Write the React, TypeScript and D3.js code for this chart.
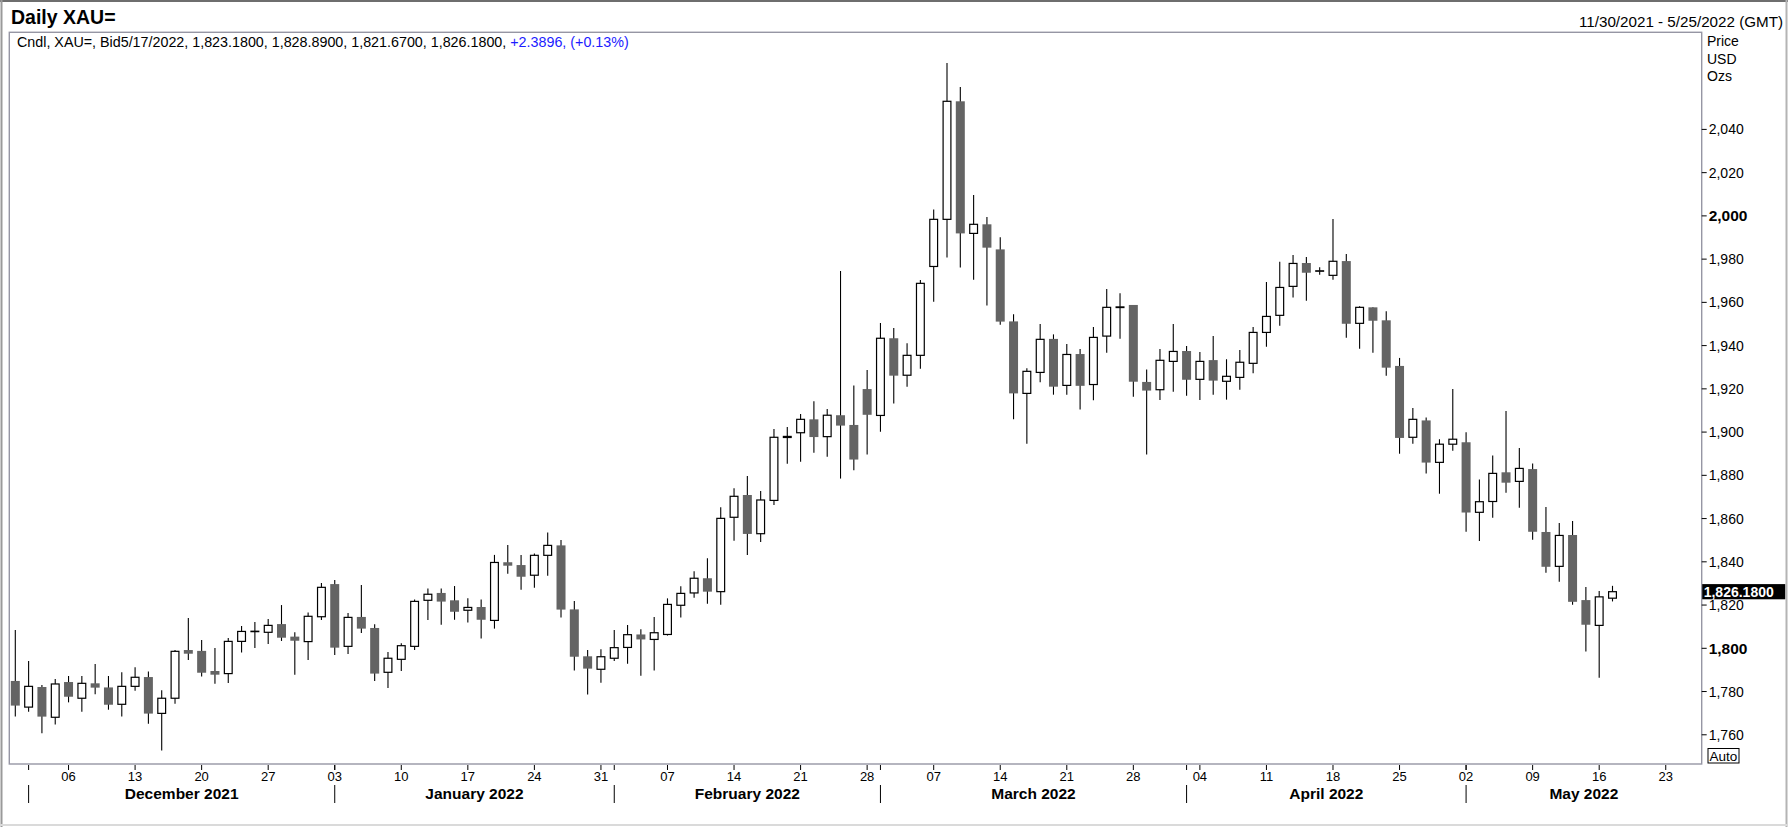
import React from "react";
import * as d3 from "d3";

// ---------- data ----------
const START = new Date(2021, 10, 30);
const END = new Date(2022, 4, 25);

const opens = [
  1784.9, 1772.8, 1782.1, 1768.1, 1784.4, 1776.9, 1783.8, 1781.9, 1774.1, 1782.4,
  1786.7, 1769.9, 1776.9, 1799.2, 1798.8, 1789.5, 1788.3, 1803.2, 1807.7, 1807.4,
  1811.2, 1805.4, 1803.1, 1814.6, 1829.7, 1800.9, 1814.5, 1809.4, 1788.9, 1794.9,
  1800.9, 1822.2, 1825.6, 1822.2, 1817.6, 1819.1, 1812.9, 1839.8, 1838.5, 1833.8,
  1843.0, 1847.6, 1818.0, 1796.3, 1790.3, 1795.4, 1800.4, 1806.4, 1804.1, 1806.4,
  1819.9, 1825.6, 1832.4, 1826.2, 1860.6, 1870.9, 1853.0, 1868.4, 1897.5, 1899.7,
  1905.9, 1897.9, 1907.8, 1903.3, 1919.9, 1907.7, 1943.4, 1926.3, 1935.5, 1976.6,
  1998.4, 2053.0, 1991.9, 1996.1, 1984.5, 1951.2, 1917.9, 1927.6, 1943.1, 1921.6,
  1936.1, 1922.0, 1944.4, 1957.6, 1958.8, 1923.2, 1919.6, 1932.7, 1937.5, 1924.4,
  1933.3, 1923.5, 1925.3, 1931.8, 1946.1, 1954.0, 1967.4, 1978.2, 1974.4, 1972.5,
  1979.1, 1950.3, 1957.7, 1951.7, 1930.6, 1897.6, 1905.4, 1886.0, 1894.4, 1895.3,
  1862.9, 1867.9, 1881.4, 1877.2, 1882.9, 1853.8, 1837.9, 1852.4, 1822.3, 1810.6,
  1823.18,
];
const highs = [
  1808.5, 1794.1, 1783.0, 1785.8, 1787.2, 1787.2, 1792.7, 1787.2, 1788.9, 1791.2,
  1789.3, 1780.6, 1799.2, 1814.0, 1803.8, 1800.1, 1804.8, 1810.3, 1812.2, 1813.6,
  1820.0, 1807.4, 1816.6, 1830.2, 1831.6, 1816.3, 1829.3, 1811.1, 1798.3, 1802.3,
  1822.6, 1827.7, 1827.7, 1828.8, 1823.1, 1822.6, 1843.2, 1847.8, 1843.2, 1843.9,
  1853.6, 1850.1, 1821.9, 1799.2, 1799.6, 1808.5, 1810.8, 1808.8, 1814.5, 1823.1,
  1828.7, 1835.6, 1841.6, 1865.2, 1874.0, 1879.7, 1872.7, 1901.4, 1902.3, 1908.4,
  1914.3, 1910.7, 1974.5, 1921.6, 1928.7, 1950.5, 1948.2, 1941.1, 1970.4, 2003.0,
  2070.7, 2059.6, 2009.7, 1999.5, 1990.1, 1954.5, 1929.5, 1950.0, 1945.2, 1940.7,
  1938.4, 1948.6, 1966.2, 1964.2, 1958.8, 1929.0, 1938.4, 1950.0, 1939.8, 1937.0,
  1944.4, 1933.7, 1938.0, 1948.6, 1969.4, 1978.8, 1981.9, 1981.0, 1976.2, 1998.6,
  1982.4, 1958.2, 1957.7, 1955.9, 1934.3, 1911.2, 1906.8, 1896.7, 1919.9, 1899.9,
  1878.1, 1889.2, 1909.8, 1892.6, 1885.5, 1865.3, 1857.9, 1858.9, 1828.3, 1826.5,
  1828.89,
];
const lows = [
  1768.4, 1770.7, 1760.7, 1764.8, 1775.0, 1770.7, 1778.7, 1771.6, 1768.4, 1780.4,
  1765.1, 1752.7, 1774.4, 1794.6, 1786.9, 1783.6, 1784.0, 1798.0, 1800.1, 1802.0,
  1803.4, 1787.8, 1794.6, 1813.1, 1796.9, 1797.4, 1807.1, 1784.9, 1781.6, 1789.5,
  1799.2, 1813.1, 1810.9, 1813.2, 1811.9, 1804.5, 1809.1, 1834.5, 1827.1, 1828.0,
  1833.6, 1814.2, 1789.7, 1778.6, 1784.1, 1794.1, 1792.9, 1787.3, 1789.7, 1805.9,
  1814.2, 1823.4, 1820.6, 1820.1, 1849.8, 1843.1, 1849.2, 1866.3, 1885.3, 1886.3,
  1890.5, 1888.6, 1878.5, 1882.4, 1889.6, 1900.2, 1913.2, 1921.0, 1929.3, 1960.3,
  1980.7, 1976.1, 1970.5, 1958.5, 1949.7, 1905.9, 1894.6, 1923.0, 1917.3, 1917.3,
  1910.4, 1914.7, 1936.7, 1943.2, 1916.4, 1889.6, 1914.8, 1918.7, 1916.8, 1914.8,
  1917.3, 1915.0, 1919.6, 1927.2, 1939.5, 1949.2, 1962.2, 1960.8, 1972.8, 1970.5,
  1943.6, 1938.6, 1936.7, 1926.1, 1890.0, 1894.6, 1880.8, 1871.5, 1891.4, 1853.9,
  1849.6, 1860.4, 1872.0, 1865.0, 1850.2, 1835.0, 1830.8, 1820.1, 1798.5, 1786.4,
  1821.67,
];
const closes = [
  1773.5, 1782.4, 1768.4, 1783.5, 1777.6, 1783.8, 1781.8, 1773.9, 1782.4, 1786.6,
  1769.8, 1776.9, 1798.6, 1797.5, 1788.7, 1787.8, 1803.2, 1807.8, 1807.9, 1810.6,
  1804.9, 1803.5, 1814.8, 1828.2, 1800.3, 1814.3, 1809.1, 1788.3, 1795.4, 1801.2,
  1821.7, 1825.0, 1821.6, 1816.9, 1818.9, 1813.2, 1839.7, 1838.2, 1833.1, 1843.0,
  1847.6, 1817.9, 1796.1, 1790.6, 1796.1, 1800.3, 1806.3, 1804.1, 1807.2, 1820.3,
  1825.4, 1832.4, 1826.2, 1860.1, 1870.3, 1852.9, 1868.6, 1897.6, 1898.0, 1905.9,
  1897.7, 1907.8, 1903.0, 1887.3, 1908.0, 1943.4, 1926.1, 1935.5, 1968.8, 1998.4,
  2053.0, 1991.9, 1996.1, 1985.3, 1951.1, 1917.9, 1928.1, 1942.9, 1921.0, 1935.9,
  1921.4, 1943.8, 1957.7, 1957.9, 1923.3, 1919.2, 1933.2, 1937.3, 1924.2, 1932.7,
  1923.8, 1925.8, 1932.3, 1946.1, 1953.5, 1966.9, 1978.0, 1973.7, 1974.6, 1979.0,
  1950.1, 1957.7, 1951.5, 1929.8, 1897.3, 1905.9, 1885.9, 1894.4, 1896.7, 1862.8,
  1867.8, 1880.9, 1876.6, 1883.2, 1853.9, 1837.7, 1852.2, 1821.5, 1810.9, 1823.79,
  1826.18,
];
const yTicks = [1760, 1780, 1800, 1820, 1840, 1860, 1880, 1900, 1920, 1940, 1960, 1980, 2000, 2020, 2040];
const boldTicks = [1800, 2000];
const lastChange = 2.3896;
const lastChangePct = 0.13;
const unitLabels = ["Price", "USD", "Ozs"];

// ---------- layout ----------
const W = 1788;
const H = 827;
const PL = 9.3;
const PR = 1701.7;
const PT = 32.3;
const PB = 764;
const FONT = "'Liberation Sans', Arial, Helvetica, sans-serif";

export default function App() {
  const days = d3
    .timeDays(START, d3.timeDay.offset(END, 1))
    .filter((d) => d.getDay() !== 0 && d.getDay() !== 6);
  const n = days.length;

  const x = d3.scaleLinear().domain([0, n - 1]).range([15.3, 15.3 + (n - 1) * 13.31]);
  const y = d3.scaleLinear().domain([1800, 2040]).range([648.3, 129.4]);

  const bars = opens.map((o, i) => ({
    i,
    o,
    h: highs[i],
    l: lows[i],
    c: closes[i],
  }));

  const mondays = days
    .map((d, i) => ({ d, i }))
    .filter((e) => e.d.getDay() === 1);
  const monthStarts = days
    .map((d, i) => ({ d, i }))
    .filter((e, k) => k > 0 && e.d.getMonth() !== days[k - 1].getMonth());

  const fmtDay = d3.timeFormat("%d");
  const fmtMonth = d3.timeFormat("%B %Y");
  const fmtTick = d3.format(",");
  const fmt4 = d3.format(",.4f");
  const fmtDate = d3.timeFormat("%-m/%-d/%Y");

  const last = bars[bars.length - 1];
  const lastDate = days[last.i];
  const infoBlack = `Cndl, XAU=, Bid${fmtDate(lastDate)}, ${fmt4(last.o)}, ${fmt4(last.h)}, ${fmt4(last.l)}, ${fmt4(last.c)}, `;
  const infoBlue = `${d3.format("+.4f")(lastChange)}, (${d3.format("+.2f")(lastChangePct)}%)`;

  const bw = 9;

  return (
    <svg
      width={W}
      height={H}
      style={{ position: "absolute", left: 0, top: 0, background: "#fff" }}
      fontFamily={FONT}
    >
      <rect x={0} y={0} width={W} height={H} fill="#fff" />
      {/* window frame */}
      <line x1={0} x2={W} y1={1} y2={1} stroke="#6e6e6e" strokeWidth={2} />
      <line x1={1.5} x2={1.5} y1={0} y2={H} stroke="#9a9a9a" strokeWidth={2} />
      <line x1={W - 1.5} x2={W - 1.5} y1={0} y2={H} stroke="#b4b4b4" strokeWidth={2} />
      <line x1={0} x2={W} y1={H - 2} y2={H - 2} stroke="#dadada" strokeWidth={2} />

      {/* header */}
      <text x={11} y={24} fontSize={19.5} fontWeight="bold" fill="#000">
        Daily XAU=
      </text>
      <text x={1783} y={27} fontSize={15.2} textAnchor="end" fill="#000">
        {`${fmtDate(START)} - ${fmtDate(END)} (GMT)`}
      </text>

      {/* plot frame */}
      <rect x={PL} y={PT} width={PR - PL} height={PB - PT} fill="#fff" stroke="#9696a4" strokeWidth={1.4} />

      <text x={17} y={47} fontSize={14.3}>
        <tspan fill="#000">{infoBlack}</tspan>
        <tspan fill="#1c1cff">{infoBlue}</tspan>
      </text>

      {/* candles */}
      <g>
        {bars.map((b) => (
          <line
            key={"w" + b.i}
            x1={x(b.i)}
            x2={x(b.i)}
            y1={y(b.h)}
            y2={y(b.l)}
            stroke="#000"
            strokeWidth={1.1}
          />
        ))}
        {bars.map((b) => {
          const up = b.c >= b.o;
          const top = y(Math.max(b.o, b.c));
          const bot = y(Math.min(b.o, b.c));
          return up ? (
            <rect
              key={"b" + b.i}
              x={x(b.i) - bw / 2 + 0.6}
              y={top}
              width={bw - 1.2}
              height={Math.max(bot - top, 0.3)}
              fill="#fff"
              stroke="#000"
              strokeWidth={1.2}
            />
          ) : (
            <rect
              key={"b" + b.i}
              x={x(b.i) - bw / 2}
              y={top}
              width={bw}
              height={Math.max(bot - top, 1)}
              fill="#646464"
            />
          );
        })}
      </g>

      {/* right axis */}
      <g fontSize={14}>
        {unitLabels.map((t, k) => (
          <text key={t} x={1707} y={46 + k * 17.5} fill="#000">
            {t}
          </text>
        ))}
        {yTicks.map((v) => {
          const bold = boldTicks.includes(v);
          return (
            <g key={v}>
              <line x1={PR} x2={PR + 5} y1={y(v)} y2={y(v)} stroke="#000" strokeWidth={1} />
              <text
                x={PR + 7}
                y={y(v)}
                dy="0.36em"
                fontSize={bold ? 15.5 : 14}
                fontWeight={bold ? "bold" : "normal"}
                fill="#000"
              >
                {fmtTick(v)}
              </text>
            </g>
          );
        })}
        <rect x={PR + 0.5} y={y(last.c) - 7.6} width={83} height={15.2} fill="#000" />
        <text x={PR + 2} y={y(last.c)} dy="0.36em" fontSize={14} fontWeight="bold" fill="#fff">
          {fmt4(last.c)}
        </text>
        <rect x={1708} y={748.5} width={31} height={14.5} fill="#fff" stroke="#000" strokeWidth={1} />
        <text x={1723.5} y={760.5} fontSize={13.5} textAnchor="middle" fill="#000">
          Auto
        </text>
      </g>

      {/* bottom axis */}
      <g>
        {mondays.map((e) => (
          <g key={"m" + e.i}>
            <line x1={x(e.i)} x2={x(e.i)} y1={PB + 1} y2={PB + 6} stroke="#000" strokeWidth={1} />
            <text x={x(e.i)} y={781} fontSize={13} textAnchor="middle" fill="#000">
              {fmtDay(e.d)}
            </text>
          </g>
        ))}
        {monthStarts.map((e, k) => {
          const next = k + 1 < monthStarts.length ? x(monthStarts[k + 1].i) : PR;
          const cx = (x(e.i) + next) / 2;
          return (
            <g key={"ms" + e.i}>
              <line x1={x(e.i)} x2={x(e.i)} y1={PB + 1} y2={PB + 6} stroke="#000" strokeWidth={1} />
              <line x1={x(e.i)} x2={x(e.i)} y1={785} y2={803} stroke="#000" strokeWidth={1} />
              <text x={cx} y={799} fontSize={15.5} fontWeight="bold" textAnchor="middle" fill="#000">
                {fmtMonth(e.d)}
              </text>
            </g>
          );
        })}
      </g>
    </svg>
  );
}
